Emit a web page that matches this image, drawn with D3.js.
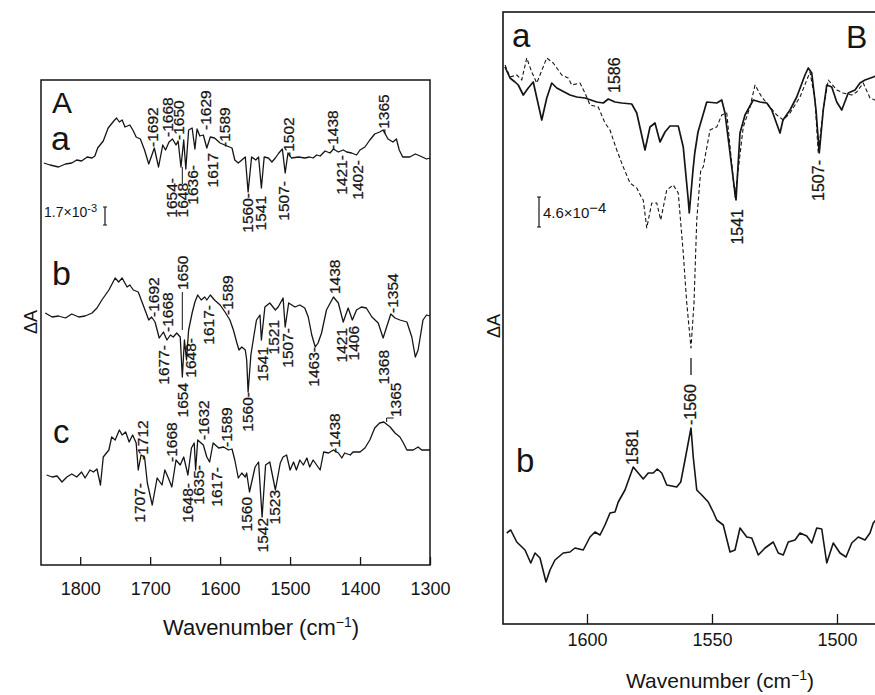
<!DOCTYPE html>
<html><head><meta charset="utf-8">
<script src="https://cdn.jsdelivr.net/npm/d3@7/dist/d3.min.js"></script>
<style>
body{margin:0;background:#fff}
text{font-family:"Liberation Sans",Arial,Helvetica,sans-serif;fill:#151515}
text.pk{stroke:#151515;stroke-width:0.25}
</style>
</head><body>
<svg id="chart" width="875" height="695"></svg>
<script>
// ---------------- DATA ----------------
// Panel A: difference spectra, [wavenumber (cm-1), ΔA (arb. units ~1e-4)]
const specA_a = [[1852,0],[1843,-2],[1831,-4],[1821,-1],[1812,0],[1805,3],[1798,2],[1790,6],[1783,5],[1779,7],[1775,15],[1767,22],[1760,35],[1752,42],[1748,45],[1744,41],[1740,43],[1736,36],[1729,38],[1724,32],[1720,26],[1714,24],[1708,13],[1702,-1],[1698,7],[1694,15],[1688,-4],[1682,18],[1678,13],[1673,21],[1668,24],[1663,18],[1660,22],[1656,-4],[1652,23],[1649,-6],[1645,33],[1640,35],[1636,14],[1633,34],[1629,27],[1624,28],[1619,15],[1614,26],[1608,25],[1600,20],[1590,17],[1583,15],[1579,3],[1574,0],[1569,3],[1564,6],[1560,-29],[1555,6],[1549,3],[1545,6],[1541,-25],[1537,6],[1531,5],[1526,1],[1521,5],[1516,10],[1511,14],[1507,-10],[1503,10],[1498,5],[1488,6],[1479,5],[1472,6],[1467,5],[1462,8],[1457,7],[1450,12],[1443,10],[1438,14],[1431,11],[1424,13],[1419,11],[1412,10],[1405,8],[1400,13],[1393,16],[1386,23],[1379,29],[1372,31],[1367,33],[1360,24],[1353,21],[1348,24],[1344,13],[1339,6],[1329,6],[1321,9],[1314,7],[1305,4],[1300,5]];
const specA_b = [[1850,2],[1840,-2],[1831,-1],[1821,-3],[1812,1],[1802,-2],[1793,-1],[1783,2],[1776,7],[1769,15],[1759,25],[1750,37],[1745,33],[1740,37],[1733,28],[1729,30],[1724,25],[1717,23],[1710,10],[1702,-5],[1698,-2],[1693,-7],[1687,-23],[1681,-17],[1676,-25],[1671,-20],[1667,-22],[1662,-18],[1657,-22],[1654,-62],[1651,-25],[1648,-45],[1645,-15],[1640,2],[1636,13],[1632,20],[1627,15],[1622,18],[1619,15],[1614,20],[1608,15],[1600,10],[1593,3],[1586,-5],[1581,-15],[1576,-28],[1573,-35],[1569,-32],[1564,-35],[1562,-45],[1560,-77],[1556,-40],[1552,-22],[1548,-5],[1543,0],[1541,-25],[1536,8],[1529,12],[1521,5],[1517,8],[1510,17],[1507,-12],[1502,12],[1493,8],[1486,10],[1479,7],[1474,-2],[1469,-20],[1464,-32],[1460,-28],[1455,-18],[1448,5],[1438,18],[1431,12],[1424,-7],[1417,7],[1411,-5],[1405,5],[1398,8],[1391,7],[1383,-2],[1374,-8],[1367,-23],[1362,-12],[1356,1],[1350,-3],[1343,-5],[1333,-7],[1326,-22],[1321,-42],[1317,-35],[1310,-5],[1305,0],[1300,-1]];
const specA_c = [[1848,0],[1840,-2],[1833,-1],[1826,-7],[1819,-2],[1812,1],[1805,-2],[1798,3],[1793,-3],[1786,5],[1781,3],[1776,6],[1771,-10],[1767,18],[1759,25],[1755,38],[1750,35],[1744,45],[1740,40],[1735,43],[1730,33],[1725,40],[1720,32],[1717,5],[1713,20],[1708,18],[1704,-8],[1697,-30],[1690,-3],[1683,-10],[1679,5],[1674,-3],[1669,-12],[1663,15],[1657,10],[1652,18],[1646,0],[1641,27],[1637,32],[1635,5],[1632,35],[1624,30],[1619,18],[1615,13],[1610,32],[1602,27],[1595,28],[1588,25],[1583,26],[1579,15],[1574,-3],[1569,2],[1564,-2],[1562,2],[1558,-17],[1550,8],[1545,13],[1540,-42],[1535,10],[1529,13],[1521,-15],[1514,12],[1510,18],[1505,20],[1500,5],[1495,13],[1491,5],[1486,15],[1481,10],[1476,17],[1472,8],[1467,15],[1462,10],[1457,5],[1452,23],[1445,22],[1438,25],[1431,22],[1426,17],[1422,22],[1414,20],[1410,23],[1400,23],[1393,27],[1386,35],[1379,47],[1372,52],[1366,53],[1357,48],[1350,42],[1343,38],[1338,32],[1333,25],[1324,25],[1317,28],[1312,25],[1300,25]];

// Panel B: spectrum a (solid and dashed) and spectrum b
const specB_aSolid = [[1632.8,33],[1630.8,22],[1628.8,18],[1627.5,15],[1625.5,5],[1623.5,12],[1621.5,18],[1618.1,-20],[1616.1,2],[1614.1,17],[1612.1,12],[1606.8,5],[1604.1,3],[1600.8,2],[1596.1,-2],[1593.5,-3],[1591.5,1],[1588.8,-2],[1586.1,-3],[1582.1,-4],[1580.1,-13],[1576.8,-50],[1574.8,-27],[1572.8,-23],[1570.8,-42],[1568.8,-32],[1566.8,-26],[1563.5,-26],[1561.5,-47],[1559.5,-100],[1559.1,-113],[1557.6,-70],[1556.9,-53],[1555.6,-32],[1552.1,-2],[1548.1,-3],[1546.1,0],[1544.8,-13],[1542.8,-53],[1540.8,-93],[1540.4,-100],[1538.8,-33],[1536.8,-15],[1533.5,0],[1530.8,-2],[1528.1,-3],[1526.1,-10],[1522.8,-33],[1521.6,-20],[1518.8,-10],[1516.1,3],[1512.8,25],[1511.5,32],[1510.1,27],[1508.4,-10],[1507.1,-53],[1505.5,-10],[1504.1,15],[1502.1,13],[1500.1,-2],[1498.1,-10],[1495.5,7],[1492.8,10],[1490.8,17],[1488.8,20],[1485.5,23],[1482.8,25]];
const specB_aDashed = [[1632.8,35],[1630.8,23],[1628.1,25],[1626.1,20],[1624.1,42],[1622.1,28],[1620.1,17],[1616.1,42],[1613.5,37],[1610.1,25],[1607.5,22],[1606.1,15],[1602.8,17],[1600.8,7],[1598.8,-5],[1595.5,-7],[1592.8,-23],[1590.8,-30],[1588.1,-50],[1585.5,-67],[1582.8,-83],[1580.1,-88],[1578.1,-98],[1577.5,-100],[1576.1,-128],[1574.1,-103],[1572.1,-103],[1570.5,-120],[1568.1,-90],[1565.5,-85],[1563.5,-93],[1561.5,-153],[1560.1,-203],[1558.4,-248],[1557.2,-203],[1556.1,-120],[1554.5,-70],[1553.5,-67],[1550.8,-30],[1548.1,-27],[1546.1,-15],[1544.1,-13],[1540.8,-97],[1537.5,-27],[1534.8,-7],[1532.8,15],[1530.1,3],[1526.8,-7],[1524.1,-15],[1521.5,-20],[1518.8,-13],[1514.8,3],[1510.8,28],[1508.8,0],[1507.5,-53],[1505.5,-10],[1503.5,20],[1500.1,10],[1497.5,7],[1494.1,5],[1492.1,8],[1489.5,17],[1486.8,2],[1484.8,0],[1482,2]];
const specB_b = [[1632.1,7],[1630.5,10],[1628.1,-2],[1624.8,-10],[1622.5,-23],[1620.8,-13],[1618.8,-18],[1616.4,-42],[1614.8,-30],[1612.8,-20],[1609.5,-13],[1606.8,-12],[1604.8,-8],[1601.5,-10],[1598.8,3],[1596.8,8],[1594.8,5],[1592.8,15],[1590.8,27],[1588.8,28],[1587.5,38],[1584.8,50],[1581.5,73],[1579.5,67],[1577.5,61],[1575.5,67],[1573.5,67],[1571.9,71],[1570.1,67],[1568.1,55],[1566.1,54],[1564.1,53],[1562.5,58],[1560.8,80],[1558.4,112],[1557.5,83],[1556.1,50],[1554.1,45],[1551.5,38],[1549.5,28],[1548.1,20],[1545.5,15],[1542.8,-12],[1540.8,-10],[1538.8,12],[1536.1,3],[1534.1,2],[1531.5,-15],[1528.8,-8],[1525.5,-2],[1523.5,-13],[1521.5,-15],[1519.5,-2],[1516.8,0],[1514.8,7],[1512.1,4],[1510.1,-3],[1508.1,12],[1506.1,11],[1504.1,-23],[1501.5,-3],[1498.8,-13],[1496.4,-17],[1494.1,-3],[1491.5,3],[1488.8,0],[1486.8,7],[1485.5,17],[1482.8,25]];

// Axis tick values
const ticksA = [1800,1700,1600,1500,1400,1300];
const ticksB = [1600,1550,1500];

// Scale bars
const scaleBarA = {label:"1.7×10", exp:"-3", size:18};
const scaleBarB = {label:"4.6×10", exp:"−4", size:30};

// Peak annotations: [text, wavenumber, ΔA at text end, direction]
const labelsA_a = [["-1692",1697,16,"u"],["-1668",1676,26,"u"],["-1650",1660,23,"u"],["-1629",1621,33,"u"],["-1589",1594,16,"u"],["-1502",1503,6,"u"],["-1438",1440,13,"u"],["-1365",1367,29,"u"],
  ["1654-",1670,-15,"d"],["1648",1654,-20,"d"],["1636-",1640,-2,"d"],["1617",1611,10,"d"],["1560-",1561,-30,"d"],["1541",1543,-33,"d"],["1507-",1510,-18,"d"],["1421-",1427,8,"d"],["1402-",1404,3,"d"]];
const labelsA_b = [["-1692",1696,-2,"u"],["-1668",1676,-17,"u"],["1650",1654,25,"u"],["-1589",1590,0,"u"],["1438",1437,21,"u"],["-1354",1354,2,"u"],
  ["1677-",1681,-30,"d"],["1648-",1643,-23,"d"],["1617-",1617,10,"d"],["1654",1654,-68,"d"],["1560-",1561,-77,"d"],["1541",1539,-32,"d"],["1521",1524,-5,"d"],["1507-",1504,-13,"d"],["1463-",1466,-32,"d"],["1421",1426,-13,"d"],["1406",1409,-11,"d"],["1368",1367,-35,"d"]];
const labelsA_c = [["-1712",1711,15,"u"],["-1668",1669,13,"u"],["-1632",1624,35,"u"],["-1589",1591,28,"u"],["-1438",1436,22,"u"],["1365",1350,58,"u"],
  ["1707-",1716,-8,"d"],["1648-",1647,-8,"d"],["1635-",1631,10,"d"],["1617-",1606,8,"d"],["1560",1563,-22,"d"],["1542",1540,-43,"d"],["1523",1523,-15,"d"]];
const labelsB_a = [["1586",1589.2,7,"u"],["1541",1540,-109,"d"],["1507-",1507.6,-60,"d"]];
const labelsB_b = [["-1560",1558.8,115,"u"],["1581",1582,75,"u"]];

// ---------------- LAYOUT ----------------
const svg = d3.select("#chart");
const INK = "#151515";

// Panel A
const xA = d3.scaleLinear().domain([1856,1300]).range([41,430]);
const yA = d3.scaleLinear().domain([0,485]).range([565,80]);
const offA = [402,250,90];

// Panel B
const xB = d3.scaleLinear().domain([1633.6,1472]).range([503,907]);
const yB = d3.scaleLinear().domain([0,612]).range([624,12]);
const offB = [524,84];

function drawSpec(g, data, x, y, off, opts={}) {
  const line = d3.line().x(d=>x(d[0])).y(d=>y(off+d[1]));
  g.append("path").datum(data).attr("d",line).attr("fill","none")
    .attr("stroke",INK).attr("stroke-width",opts.w||1.3)
    .attr("stroke-linejoin","round")
    .attr("stroke-dasharray",opts.dash||null);
}
function drawLabels(g, labels, x, y, off, fs) {
  labels.forEach(([t,w,v,dir])=>{
    g.append("text").attr("class","pk")
      .attr("transform",`translate(${x(w)},${y(off+v)}) rotate(-90)`)
      .attr("text-anchor",dir==="u"?"start":"end")
      .attr("dy","0.36em").attr("font-size",fs).text(t);
  });
}

// ---- Panel A ----
const gA = svg.append("g");
gA.append("rect").attr("x",xA.range()[0]).attr("y",yA.range()[1])
  .attr("width",xA.range()[1]-xA.range()[0]).attr("height",yA.range()[0]-yA.range()[1])
  .attr("fill","none").attr("stroke",INK).attr("stroke-width",1.5);
const axA = gA.append("g").attr("transform",`translate(0,${yA.range()[0]})`)
  .call(d3.axisBottom(xA).tickValues(ticksA).tickSize(-8).tickSizeOuter(0).tickPadding(17).tickFormat(d3.format("d")));
axA.select(".domain").remove();
axA.selectAll("line").attr("stroke",INK).attr("stroke-width",1.3);
axA.selectAll("text").attr("font-size",18).attr("fill",INK).attr("font-family",'"Liberation Sans",Arial,sans-serif');

[specA_a,specA_b,specA_c].forEach((s,i)=>drawSpec(gA,s,xA,yA,offA[i]));
drawLabels(gA,labelsA_a,xA,yA,offA[0],15.5);
drawLabels(gA,labelsA_b,xA,yA,offA[1],15.5);
drawLabels(gA,labelsA_c,xA,yA,offA[2],15.5);
// leaders
gA.append("line").attr("x1",xA(1654)).attr("x2",xA(1654)).attr("y1",yA(offA[1]+23)).attr("y2",yA(offA[1]-15)).attr("stroke",INK).attr("stroke-width",1);
gA.append("line").attr("x1",xA(1654)).attr("x2",xA(1654)).attr("y1",yA(offA[0]-21)).attr("y2",yA(offA[0]-4)).attr("stroke",INK).attr("stroke-width",1);
gA.append("path").attr("d",`M${xA(1362)},${yA(offA[2]+57)} L${xA(1362)},${yA(offA[2]+53)} M${xA(1362)},${yA(offA[2]+57)} L${xA(1352)},${yA(offA[2]+57)}`).attr("stroke",INK).attr("fill","none");

gA.append("text").attr("x",52).attr("y",113).attr("font-size",30).text("A");
gA.append("text").attr("x",51).attr("y",150).attr("font-size",34).text("a");
gA.append("text").attr("x",52).attr("y",285).attr("font-size",34).text("b");
gA.append("text").attr("x",53).attr("y",443).attr("font-size",33).text("c");

// scale bar A
const sbAx = 105, sbAy0 = yA(offA[0]) + 44;
gA.append("path").attr("d",`M${sbAx},${sbAy0} L${sbAx},${sbAy0+scaleBarA.size} M${sbAx-2},${sbAy0} L${sbAx+2},${sbAy0} M${sbAx-2},${sbAy0+scaleBarA.size} L${sbAx+2},${sbAy0+scaleBarA.size}`).attr("stroke",INK).attr("stroke-width",1.2);
const tA = gA.append("text").attr("x",44).attr("y",sbAy0+10).attr("font-size",14).text(scaleBarA.label);
tA.append("tspan").attr("dy",-5).attr("font-size",11).text(scaleBarA.exp);

const titleA = gA.append("text").attr("x",261).attr("y",635).attr("text-anchor","middle").attr("font-size",22).text("Wavenumber (cm");
titleA.append("tspan").attr("dy",-8).attr("font-size",14).text("−1");
titleA.append("tspan").attr("dy",8).text(")");
gA.append("text").attr("transform","translate(31,322) rotate(-90)").attr("text-anchor","middle").attr("dy","0.36em").attr("font-size",18).text("ΔA");

// ---- Panel B ----
const gB = svg.append("g");
svg.append("defs").append("clipPath").attr("id","clipB").append("rect")
  .attr("x",503).attr("y",12).attr("width",404).attr("height",612);
gB.append("rect").attr("x",xB.range()[0]).attr("y",yB.range()[1])
  .attr("width",xB.range()[1]-xB.range()[0]).attr("height",yB.range()[0]-yB.range()[1])
  .attr("fill","none").attr("stroke",INK).attr("stroke-width",1.6);
const axB = gB.append("g").attr("transform",`translate(0,${yB.range()[0]})`)
  .call(d3.axisBottom(xB).tickValues(ticksB).tickSize(-10).tickSizeOuter(0).tickPadding(9).tickFormat(d3.format("d")));
axB.select(".domain").remove();
axB.selectAll("line").attr("stroke",INK).attr("stroke-width",1.3);
axB.selectAll("text").attr("font-size",18).attr("fill",INK).attr("font-family",'"Liberation Sans",Arial,sans-serif');

const gBc = gB.append("g").attr("clip-path","url(#clipB)");
drawSpec(gBc,specB_aDashed,xB,yB,offB[0],{w:1.1,dash:"4,2.5"});
drawSpec(gBc,specB_aSolid,xB,yB,offB[0],{w:1.7});
drawSpec(gBc,specB_b,xB,yB,offB[1],{w:1.6});
drawLabels(gB,labelsB_a,xB,yB,offB[0],16);
drawLabels(gB,labelsB_b,xB,yB,offB[1],16);
gB.append("line").attr("x1",xB(1558.4)).attr("x2",xB(1558.4)).attr("y1",yB(offB[0]-258)).attr("y2",yB(offB[0]-275)).attr("stroke",INK).attr("stroke-width",1.3);

gB.append("text").attr("x",512).attr("y",47).attr("font-size",33).text("a");
gB.append("text").attr("x",846).attr("y",48).attr("font-size",32).text("B");
gB.append("text").attr("x",516).attr("y",472).attr("font-size",33).text("b");

const sbBx = 539, sbBy0 = 197;
gB.append("path").attr("d",`M${sbBx},${sbBy0} L${sbBx},${sbBy0+scaleBarB.size} M${sbBx-2},${sbBy0} L${sbBx+2},${sbBy0} M${sbBx-2},${sbBy0+scaleBarB.size} L${sbBx+2},${sbBy0+scaleBarB.size}`).attr("stroke",INK).attr("stroke-width",1.2);
const tB = gB.append("text").attr("x",543).attr("y",218).attr("font-size",15).text(scaleBarB.label);
tB.append("tspan").attr("dy",-5).attr("font-size",15).text(scaleBarB.exp);

const titleB = gB.append("text").attr("x",720).attr("y",688).attr("text-anchor","middle").attr("font-size",21).text("Wavenumber (cm");
titleB.append("tspan").attr("dy",-8).attr("font-size",14).text("−1");
titleB.append("tspan").attr("dy",8).text(")");
gB.append("text").attr("transform","translate(494,326) rotate(-90)").attr("text-anchor","middle").attr("dy","0.36em").attr("font-size",18).text("ΔA");
</script>
</body></html>
